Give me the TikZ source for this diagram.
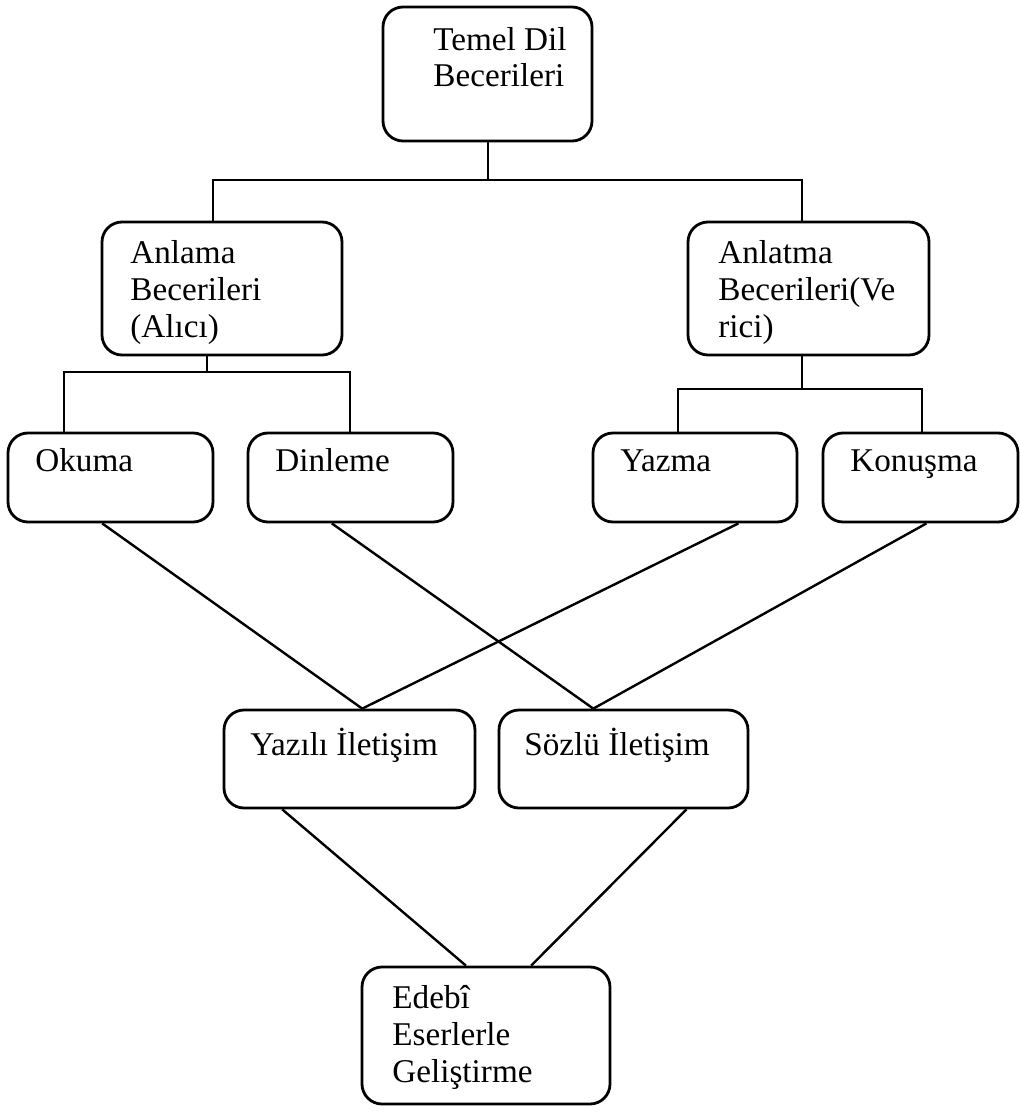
\documentclass[tikz,border=0pt]{standalone}
\usepackage{fontspec}
\setmainfont{Liberation Serif}
\usetikzlibrary{fit,calc}

\begin{document}
\begin{tikzpicture}[x=0.5pt, y=-0.5pt,
    box/.style={draw, line width=1.4pt, rounded corners=10pt, inner sep=0pt},
    txt/.style={anchor=base west, align=left, inner sep=0pt, font=\fontsize{16.6}{18.3}\selectfont},
    link/.style={line width=1.2pt}]
    \useasboundingbox (0,0) rectangle (1020,1113);

    % Top box (base of multi-line text = last line)
    \node[box, fit={(383,7) (592,141)}] (temel) {};
    \node[txt] (temelT) at (433,87) {Temel Dil\\Becerileri};

    % Second level
    \node[box, fit={(102,222) (342,355)}] (anlama) {};
    \node[txt] (anlamaT) at (130,337) {Anlama\\Becerileri\\(Alıcı)};
    \node[box, fit={(688,222) (929,355)}] (anlatma) {};
    \node[txt] (anlatmaT) at (718,337) {Anlatma\\Becerileri(Ve\\rici)};

    % Skills
    \node[box, fit={(8,433) (213,522)}] (okuma) {};
    \node[txt] (okumaT) at (35,471) {Okuma};
    \node[box, fit={(248,433) (453,522)}] (dinleme) {};
    \node[txt] (dinlemeT) at (275,471) {Dinleme};
    \node[box, fit={(593,433) (797,522)}] (yazma) {};
    \node[txt] (yazmaT) at (620,471) {Yazma};
    \node[box, fit={(823,433) (1018,522)}] (konusma) {};
    \node[txt] (konusmaT) at (850,471) {Konuşma};

    % Communication
    \node[box, fit={(224,710) (475,808)}] (yazili) {};
    \node[txt] (yaziliT) at (250,755) {Yazılı İletişim};
    \node[box, fit={(499,710) (748,808)}] (sozlu) {};
    \node[txt] (sozluT) at (524,755) {Sözlü İletişim};

    % Bottom box
    \node[box, fit={(362,967) (610,1104)}] (edebi) {};
    \node[txt] (edebiT) at (392,1082) {Edebî\\Eserlerle\\Geliştirme};

    % Tree connectors
    \coordinate (j0) at (488,180);
    \coordinate (j1) at (213,180);
    \coordinate (j2) at (802,180);
    \draw[link] (temel.south -| j0) -- (j0);
    \draw[link] (anlama.north -| j1) -- (j1) -- (j2) -- (anlatma.north -| j2);

    \coordinate (k0) at (207,372);
    \coordinate (k1) at (64,372);
    \coordinate (k2) at (350,372);
    \draw[link] (anlama.south -| k0) -- (k0);
    \draw[link] (okuma.north -| k1) -- (k1) -- (k2) -- (dinleme.north -| k2);

    \coordinate (m0) at (802,389);
    \coordinate (m1) at (678,389);
    \coordinate (m2) at (922,389);
    \draw[link] (anlatma.south -| m0) -- (m0);
    \draw[link] (yazma.north -| m1) -- (m1) -- (m2) -- (konusma.north -| m2);

    % Crossing lines
    \draw[link] ($(okuma.south west)!0.46!(okuma.south east)$) -- ($(yazili.north west)!0.55!(yazili.north east)$);
    \draw[link] ($(yazma.south west)!0.71!(yazma.south east)$) -- ($(yazili.north west)!0.55!(yazili.north east)$);
    \draw[link] ($(dinleme.south west)!0.41!(dinleme.south east)$) -- ($(sozlu.north west)!0.38!(sozlu.north east)$);
    \draw[link] ($(konusma.south west)!0.53!(konusma.south east)$) -- ($(sozlu.north west)!0.38!(sozlu.north east)$);

    % To the last box
    \draw[link] ($(yazili.south west)!0.235!(yazili.south east)$) -- ($(edebi.north west)!0.42!(edebi.north east)$);
    \draw[link] ($(sozlu.south west)!0.75!(sozlu.south east)$) -- ($(edebi.north west)!0.68!(edebi.north east)$);
\end{tikzpicture}
\end{document}
